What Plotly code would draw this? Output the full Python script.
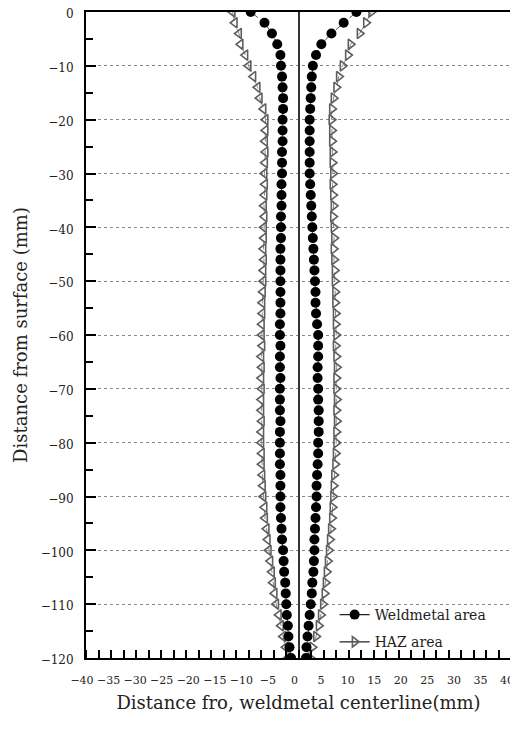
import plotly.graph_objects as go

depth = [0, -2, -4, -6, -8, -10, -12, -14, -16, -18,
         -20, -22, -24, -26, -28, -30, -32, -34, -36, -38,
         -40, -42, -44, -46, -48, -50, -52, -54, -56, -58,
         -60, -62, -64, -66, -68, -70, -72, -74, -76, -78,
         -80, -82, -84, -86, -88, -90, -92, -94, -96, -98,
         -100, -102, -104, -106, -108, -110, -112, -114, -116, -118,
         -120]

weld_left = [-9.0, -6.4, -5.0, -4.0, -3.4, -3.3, -3.1, -3.0, -2.9, -2.9,
             -3.0, -3.0, -3.0, -3.1, -3.1, -3.1, -3.2, -3.2, -3.2, -3.3,
             -3.3, -3.3, -3.4, -3.4, -3.4, -3.4, -3.4, -3.4, -3.4, -3.5,
             -3.5, -3.4, -3.5, -3.5, -3.4, -3.5, -3.5, -3.5, -3.4, -3.5,
             -3.5, -3.5, -3.5, -3.4, -3.4, -3.4, -3.4, -3.3, -3.2, -3.1,
             -2.9, -2.8, -2.7, -2.5, -2.4, -2.3, -2.2, -2.0, -1.9, -1.7,
             -1.4]

weld_right = [10.9, 8.5, 6.2, 4.3, 3.3, 2.7, 2.5, 2.4, 2.3, 2.2,
              2.1, 2.1, 2.1, 2.1, 2.1, 2.1, 2.2, 2.3, 2.4, 2.5,
              2.6, 2.7, 2.8, 2.9, 3.0, 3.1, 3.2, 3.2, 3.3, 3.5,
              3.7, 3.7, 3.7, 3.6, 3.6, 3.7, 3.7, 3.8, 3.8, 3.8,
              3.7, 3.7, 3.6, 3.5, 3.4, 3.4, 3.3, 3.2, 3.1, 3.0,
              3.0, 2.9, 2.8, 2.6, 2.5, 2.3, 2.1, 1.9, 1.7, 1.5,
              1.4]

haz_left = [-12.4, -12.0, -11.2, -10.9, -10.0, -9.4, -8.5, -7.7, -7.3, -6.6,
            -6.2, -6.2, -6.3, -6.2, -6.3, -6.4, -6.3, -6.4, -6.5, -6.4,
            -6.5, -6.5, -6.6, -6.5, -6.6, -6.6, -6.7, -6.8, -6.8, -6.9,
            -6.9, -6.8, -7.0, -6.9, -7.0, -6.9, -7.0, -7.0, -6.9, -7.0,
            -7.0, -6.9, -6.9, -6.8, -6.7, -6.6, -6.4, -6.3, -6.0, -5.8,
            -5.6, -5.3, -5.0, -4.8, -4.5, -4.2, -3.7, -3.3, -2.9, -2.4,
            -2.0]

haz_right = [13.7, 12.7, 11.5, 9.8, 9.3, 8.3, 7.6, 7.1, 6.6, 6.3,
             6.2, 6.3, 6.3, 6.4, 6.4, 6.5, 6.4, 6.5, 6.6, 6.5,
             6.6, 6.7, 6.6, 6.7, 6.8, 6.8, 6.9, 6.9, 7.0, 7.0,
             7.1, 7.0, 7.1, 7.2, 7.1, 7.1, 7.2, 7.1, 7.2, 7.1,
             7.1, 7.0, 6.9, 6.7, 6.6, 6.5, 6.4, 6.3, 6.1, 5.9,
             5.7, 5.5, 5.3, 5.1, 4.9, 4.6, 4.2, 3.8, 3.3, 2.6,
             2.2]

x_ticks = [-40, -35, -30, -25, -20, -15, -10, -5, 0, 5, 10, 15, 20, 25, 30, 35, 40]
y_ticks = [0, -10, -20, -30, -40, -50, -60, -70, -80, -90, -100, -110, -120]

FONT = "DejaVu Serif"

fig = go.Figure()

haz_line = dict(color="#888888", width=1, dash="dash")
haz_color = "#5e5e5e"
weld_line = dict(color="#555555", width=1, dash="dash")

fig.add_trace(go.Scatter(
    x=haz_left, y=depth, mode="lines+markers", name="HAZ area",
    legendgroup="haz", showlegend=False, line=haz_line,
    marker=dict(symbol="triangle-left-open", size=9, color=haz_color, line=dict(width=1.6))))
fig.add_trace(go.Scatter(
    x=haz_right, y=depth, mode="lines+markers", name="HAZ area",
    legendgroup="haz", showlegend=False, line=haz_line,
    marker=dict(symbol="triangle-right-open", size=9, color=haz_color, line=dict(width=1.6))))
fig.add_trace(go.Scatter(
    x=weld_left, y=depth, mode="lines+markers", name="Weldmetal area",
    legendgroup="weld", showlegend=False, line=weld_line,
    marker=dict(symbol="circle", size=10, color="black")))
fig.add_trace(go.Scatter(
    x=weld_right, y=depth, mode="lines+markers", name="Weldmetal area",
    legendgroup="weld", showlegend=False, line=weld_line,
    marker=dict(symbol="circle", size=10, color="black")))
# legend entries
fig.add_trace(go.Scatter(
    x=[None], y=[None], mode="lines+markers", name="Weldmetal area",
    legendgroup="weld", showlegend=True,
    line=dict(color="#222222", width=1.2),
    marker=dict(symbol="circle", size=10, color="black")))
fig.add_trace(go.Scatter(
    x=[None], y=[None], mode="lines+markers", name="HAZ area",
    legendgroup="haz", showlegend=True,
    line=dict(color="#222222", width=1.2),
    marker=dict(symbol="triangle-right-open", size=9, color=haz_color, line=dict(width=1.6))))

# page body has an 8px margin, so the figure is sized to fit the window
fig.update_layout(
    width=510, height=717,
    margin=dict(l=78, r=7, t=4, b=67, autoexpand=False),
    paper_bgcolor="white", plot_bgcolor="white",
    font=dict(family=FONT, color="#222222", size=12),
    showlegend=True,
    legend=dict(x=0.585, y=0.0, xanchor="left", yanchor="bottom",
                bgcolor="rgba(0,0,0,0)", borderwidth=0,
                font=dict(family=FONT, size=14, color="#222222"),
                tracegroupgap=6, itemwidth=30),
    xaxis=dict(
        range=[-40, 40], tickmode="array", tickvals=x_ticks,
        ticktext=[("\u2212" + str(abs(v))) if v < 0 else str(v) for v in x_ticks],
        tickangle=0, automargin=False, ticklabeloverflow="allow",
        ticks="", showgrid=False, zeroline=True, zerolinecolor="#333333", zerolinewidth=2,
        showline=True, linecolor="black", linewidth=2, mirror=True,
        ticklabelstandoff=11, ticklabelshift=-4, tickfont=dict(size=11),
        minor=dict(ticks="inside", tickmode="linear", tick0=-40, dtick=80/34,
                   ticklen=8, tickwidth=2, tickcolor="black", showgrid=False),
        title=dict(text="Distance fro, weldmetal centerline(mm)",
                   font=dict(family=FONT, size=18), standoff=10),
    ),
    yaxis=dict(
        range=[-120, 0], tickmode="array", tickvals=y_ticks,
        ticktext=[("\u2212" + str(abs(v))) if v < 0 else str(v) for v in y_ticks],
        automargin=False, ticklabeloverflow="allow",
        ticks="inside", ticklen=10, tickwidth=2, tickcolor="black",
        showgrid=True, gridcolor="#888888", griddash="dot", gridwidth=1.3,
        zeroline=False,
        showline=True, linecolor="black", linewidth=2, mirror=True,
        ticklabelstandoff=8, ticklabelshift=2, tickfont=dict(size=12),
        minor=dict(ticks="inside", tickmode="linear", tick0=0, dtick=5,
                   ticklen=7, tickwidth=2, tickcolor="black", showgrid=False),
        title=dict(text="Distance from surface (mm)",
                   font=dict(family=FONT, size=18), standoff=8),
    ),
)

fig.write_html("out.html")
